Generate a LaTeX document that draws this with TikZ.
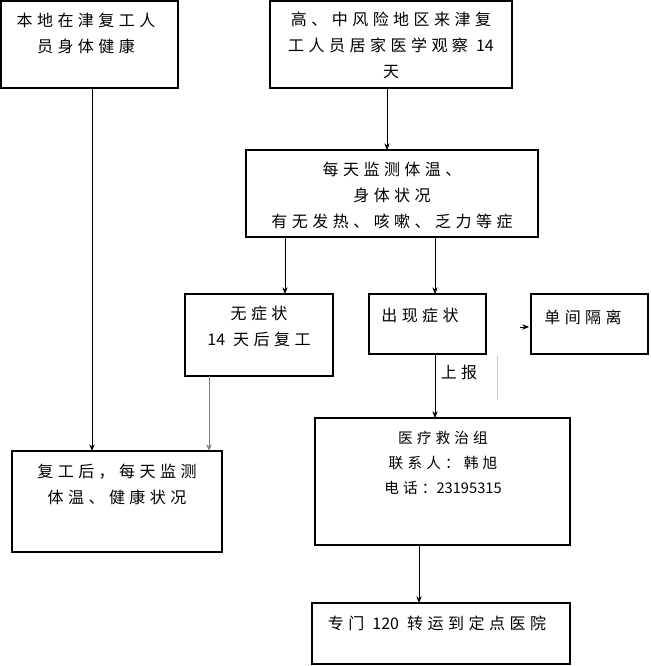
\documentclass[tikz,border=0pt]{standalone}
\usepackage{fontspec}
\setmainfont{Noto Sans CJK SC}[LetterSpace=28]
\newfontfamily\numfont{Noto Sans CJK SC}
\newcommand{\nls}[1]{{\numfont #1}}
\usetikzlibrary{arrows.meta}
\begin{document}
\begin{tikzpicture}[x=0.75pt,y=-0.75pt,
  box/.style={draw,line width=0.8pt},
  txt/.style={align=center,font=\fontsize{12pt}{19.5pt}\selectfont,inner sep=0pt},
  stxt/.style={align=center,font=\fontsize{11pt}{18.5pt}\selectfont,inner sep=0pt},
  arr/.style={-{Stealth[length=5pt,width=4pt]},line width=0.6pt}]
\useasboundingbox (0,0) rectangle (650,666);
\draw[box] (1,1) rectangle (178,88);
\node[txt] (A) at (86,33) {本地在津复工人\\员身体健康};
\draw[box] (270,1) rectangle (512,88);
\node[txt] (B) at (391,45) {高、中风险地区来津复\\工人员居家医学观察 \nls{14}\\天};
\draw[box] (246,150) rectangle (538,237);
\node[txt] (C) at (392,195) {每天监测体温、\\身体状况\\有无发热、咳嗽、乏力等症};
\draw[box] (185,294) rectangle (333,376);
\node[txt] (D) at (259,326) {无症状\\\nls{14} 天后复工};
\draw[box] (369,294) rectangle (486,354);
\node[txt] (E) at (420,315) {出现症状};
\draw[box] (531,294) rectangle (648,354);
\node[txt] (F) at (583,317) {单间隔离};
\draw[box] (315,418) rectangle (570,545);
\node[stxt] (G) at (443,463) {医疗救治组\\联系人：韩旭\\电话：\nls{23195315}};
\draw[box] (12,451) rectangle (222,552);
\node[txt] (H) at (117,484) {复工后，每天监测\\体温、健康状况};
\draw[box] (312,603) rectangle (570,664);
\node[txt] (I) at (437,623) {专门 \nls{120} 转运到定点医院};
\node[txt] (L) at (459,372) {上报};
\coordinate (a1) at (92,88); \coordinate (a2) at (92,451);
\coordinate (b1) at (387,88); \coordinate (b2) at (387,150);
\coordinate (c1) at (285,237); \coordinate (c2) at (285,294);
\coordinate (c3) at (435,237); \coordinate (c4) at (435,294);
\coordinate (e1) at (435,354); \coordinate (e2) at (435,418);
\coordinate (d1) at (209,376); \coordinate (d2) at (209,451);
\coordinate (g1) at (419,545); \coordinate (g2) at (419,603);
\coordinate (f1) at (520,327); \coordinate (f2) at (529,327);
\coordinate (v1) at (497,356); \coordinate (v2) at (497,400);
\draw[arr] (a1) -- (a2);
\draw[arr] (b1) -- (b2);
\draw[arr] (c1) -- (c2);
\draw[arr] (c3) -- (c4);
\draw[arr] (e1) -- (e2);
\draw[arr,line width=0.4pt,gray] (d1) -- (d2);
\draw[arr] (g1) -- (g2);
\draw[arr] (f1) -- (f2);
\draw[gray!40,line width=0.4pt] (v1) -- (v2);
\end{tikzpicture}
\end{document}
